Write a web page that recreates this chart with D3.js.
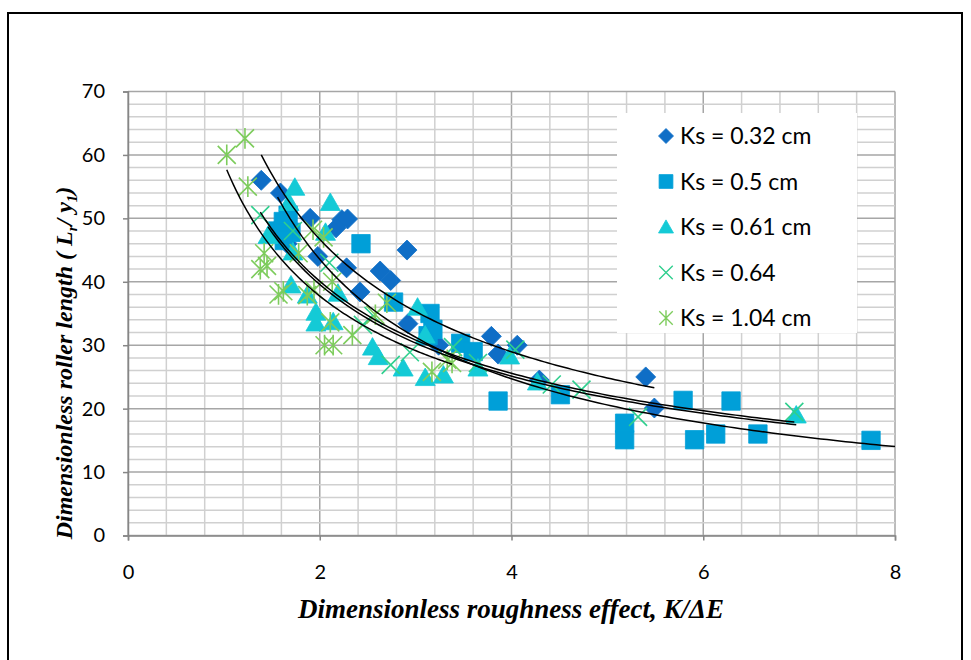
<!DOCTYPE html>
<html><head><meta charset="utf-8">
<script src="https://cdn.jsdelivr.net/npm/d3@7"></script>
<style>body{margin:0;background:#fff}svg{display:block}</style>
</head><body>
<svg id="chart" width="971" height="660"></svg>
<script>
// ---- data ----
const seriesNames = ["Ks = 0.32 cm", "Ks = 0.5 cm", "Ks = 0.61 cm", "Ks = 0.64", "Ks = 1.04 cm"];
const ks032X = [1.39,1.59,1.63,1.66,1.90,1.98,2.17,2.23,2.29,2.28,2.42,2.63,2.74,2.91,2.92,3.24,3.79,3.86,4.06,4.29,5.40,5.49];
const ks032Y = [56.0,54.0,49.5,46.0,50.0,44.0,48.5,49.8,49.9,42.2,38.4,41.7,40.2,45.0,33.4,30.0,31.4,28.6,30.0,24.5,25.0,20.1];
const ks05X  = [1.56,1.62,1.70,1.63,1.67,2.43,2.77,3.15,3.13,3.18,3.47,3.60,3.86,4.51,5.18,5.18,5.79,5.91,6.13,6.29,6.57,7.75];
const ks05Y  = [48.0,49.5,47.8,46.5,50.5,46.0,36.8,35.0,31.5,32.5,30.3,29.0,21.2,22.2,17.7,15.1,21.3,15.1,16.0,21.2,16.0,15.0];
const ks061X = [1.46,1.68,1.74,2.11,1.72,2.06,1.70,1.87,1.96,1.96,2.14,2.19,2.55,2.61,2.87,3.02,3.10,3.10,3.29,3.65,3.98,4.27,6.97];
const ks061Y = [47.3,52.5,54.9,52.5,44.7,47.8,39.5,37.9,35.2,33.5,33.7,38.2,29.7,28.2,26.4,36.0,31.6,24.9,25.3,26.4,28.3,24.2,19.0];
const ks064X = [1.38,1.72,2.10,2.45,2.56,2.74,2.94,3.39,3.65,4.04,4.42,4.73,5.32,6.95];
const ks064Y = [50.5,48.0,43.0,33.2,34.6,26.9,28.9,29.7,27.2,29.3,23.8,23.0,18.7,19.5];
const ks104X = [1.03,1.22,1.25,1.38,1.42,1.45,1.57,1.62,1.78,1.87,1.93,1.94,2.04,2.05,2.11,2.13,2.14,2.34,2.58,2.70,3.17,3.33,3.38];
const ks104Y = [60.0,62.6,55.0,42.0,44.5,42.5,38.0,38.5,44.5,37.9,48.2,38.7,47.0,30.0,33.6,40.0,30.0,31.6,34.8,36.7,25.8,27.7,27.2];
const xTicks = [0, 2, 4, 6, 8];
const yTicks = [0, 10, 20, 30, 40, 50, 60, 70];
const xTitle = "Dimensionless roughness effect, K/ΔE";

// ---- setup ----
const seriesX = [ks032X, ks05X, ks061X, ks064X, ks104X];
const seriesY = [ks032Y, ks05Y, ks061Y, ks064Y, ks104Y];
const colors = ["#0f6ec6", "#009fd8", "#14cad6", "#2fcf8e", "#7dcc5c"];
const shapes = ["diamond", "square", "triangle", "x", "asterisk"];
const trendEndAtAxis = [false, true, false, false, false];

const svg = d3.select("#chart");
const x = d3.scaleLinear().domain([0, 8]).range([128, 895]);
const y = d3.scaleLinear().domain([0, 70]).range([535.5, 91.5]);

// outer frame
svg.append("path").attr("d", "M8,672 L8,13 L962,13 L962,672")
  .attr("fill", "none").attr("stroke", "#000").attr("stroke-width", 2);

// gridlines
const g = svg.append("g");
const minorX = d3.range(0, 8.001, 0.4), minorY = d3.range(0, 70.001, 2);
g.selectAll(".vx").data(minorX).join("line")
  .attr("x1", d => x(d)).attr("x2", d => x(d)).attr("y1", y(0)).attr("y2", y(70))
  .attr("stroke", d => Math.abs(d / 2 - Math.round(d / 2)) < 1e-6 ? "#a6a6a6" : "#d0d0d0")
  .attr("stroke-width", 1.5);
g.selectAll(".hy").data(minorY).join("line")
  .attr("y1", d => y(d)).attr("y2", d => y(d)).attr("x1", x(0)).attr("x2", x(8))
  .attr("stroke", d => d % 10 === 0 ? "#a6a6a6" : "#d0d0d0")
  .attr("stroke-width", 1.5);

// axes
const xAxis = d3.axisBottom(x).tickValues(xTicks).tickSize(5).tickPadding(24).tickFormat(d3.format("d"));
const yAxis = d3.axisLeft(y).tickValues(yTicks).tickSize(5).tickPadding(18).tickFormat(d3.format("d"));
const gx = svg.append("g").attr("transform", `translate(0,${y(0)})`).call(xAxis);
const gy = svg.append("g").attr("transform", `translate(${x(0)},0)`).call(yAxis);
[gx, gy].forEach(a => {
  a.select(".domain").attr("stroke", "#868686").attr("stroke-width", 1.5);
  a.selectAll(".tick line").attr("stroke", "#868686").attr("stroke-width", 1.5);
  a.selectAll("text").attr("fill", "#000").style("font-family", "Lato, 'Open Sans', sans-serif").style("font-size", "20px");
});

// marker path
function markerPath(shape, s) {
  const h = s / 2;
  switch (shape) {
    case "diamond": return `M0,${-h}L${h},0L0,${h}L${-h},0Z`;
    case "square": return `M${-h * 0.92},${-h * 0.92}h${s * 0.92}v${s * 0.92}h${-s * 0.92}Z`;
    case "triangle": return `M0,${-h * 0.95}L${h},${h * 0.8}L${-h},${h * 0.8}Z`;
    case "x": { const r = h * 0.9; return `M${-r},${-r}L${r},${r}M${-r},${r}L${r},${-r}`; }
    case "asterisk": { const r = h * 0.9; return `M${-r},${-r}L${r},${r}M${-r},${r}L${r},${-r}M0,${-r * 1.15}L0,${r * 1.15}`; }
  }
}
const strokeShape = s => s === "x" || s === "asterisk";

// markers
seriesX.forEach((xs, i) => {
  const pts = xs.map((v, j) => [v, seriesY[i][j]]);
  svg.append("g").selectAll("path").data(pts).join("path")
    .attr("transform", d => `translate(${x(d[0])},${y(d[1])})`)
    .attr("d", markerPath(shapes[i], 20))
    .attr("fill", strokeShape(shapes[i]) ? "none" : colors[i])
    .attr("stroke", colors[i])
    .attr("stroke-width", strokeShape(shapes[i]) ? 1.6 : 0.8);
});

// power trendlines (least squares on ln-ln, like a spreadsheet power trendline)
function powerFit(xs, ys) {
  const n = xs.length; let sx = 0, sy = 0, sxx = 0, sxy = 0;
  xs.forEach((v, j) => { const lx = Math.log(v), ly = Math.log(ys[j]); sx += lx; sy += ly; sxx += lx * lx; sxy += lx * ly; });
  const b = (n * sxy - sx * sy) / (n * sxx - sx * sx);
  const a = Math.exp((sy - b * sx) / n);
  return { a, b };
}
const line = d3.line().x(d => x(d[0])).y(d => y(d[1]));
seriesX.forEach((xs, i) => {
  const f = powerFit(xs, seriesY[i]);
  const x0 = d3.min(xs), x1 = trendEndAtAxis[i] ? x.domain()[1] : d3.max(xs);
  const pts = d3.range(0, 101).map(k => { const v = x0 + (x1 - x0) * k / 100; return [v, f.a * Math.pow(v, f.b)]; });
  svg.append("path").attr("d", line(pts)).attr("fill", "none").attr("stroke", "#000").attr("stroke-width", 1.5);
});

// legend
const lg = svg.append("g");
lg.append("rect").attr("x", 617).attr("y", 113).attr("width", 240).attr("height", 220).attr("fill", "#fff");
seriesNames.forEach((name, i) => {
  const cy = 136 + i * 45.5;
  lg.append("path").attr("transform", `translate(666,${cy})`)
    .attr("d", markerPath(shapes[i], 15))
    .attr("fill", strokeShape(shapes[i]) ? "none" : colors[i])
    .attr("stroke", colors[i]).attr("stroke-width", strokeShape(shapes[i]) ? 1.4 : 0.8);
  lg.append("text").attr("x", 680).attr("y", cy).attr("dy", "0.35em")
    .style("font-family", "Lato, 'Open Sans', sans-serif").style("font-size", "23px").text(name);
});

// axis titles
svg.append("text").attr("x", 511).attr("y", 618).attr("text-anchor", "middle")
  .style("font-family", "'Liberation Serif', 'Times New Roman', serif").style("font-weight", "bold").style("font-style", "italic")
  .style("font-size", "27px").text(xTitle);

const yt = svg.append("text").attr("transform", "translate(72,363) rotate(-90)").attr("text-anchor", "middle")
  .style("font-family", "'Liberation Serif', 'Times New Roman', serif").style("font-weight", "bold").style("font-style", "italic")
  .style("font-size", "24px");
yt.append("tspan").text("Dimensionless roller length ( L");
yt.append("tspan").attr("dy", 5).style("font-size", "15px").text("r");
yt.append("tspan").attr("dy", -5).text("/ y");
yt.append("tspan").attr("dy", 5).style("font-size", "15px").text("1");
yt.append("tspan").attr("dy", -5).text(")");
</script>
</body></html>
